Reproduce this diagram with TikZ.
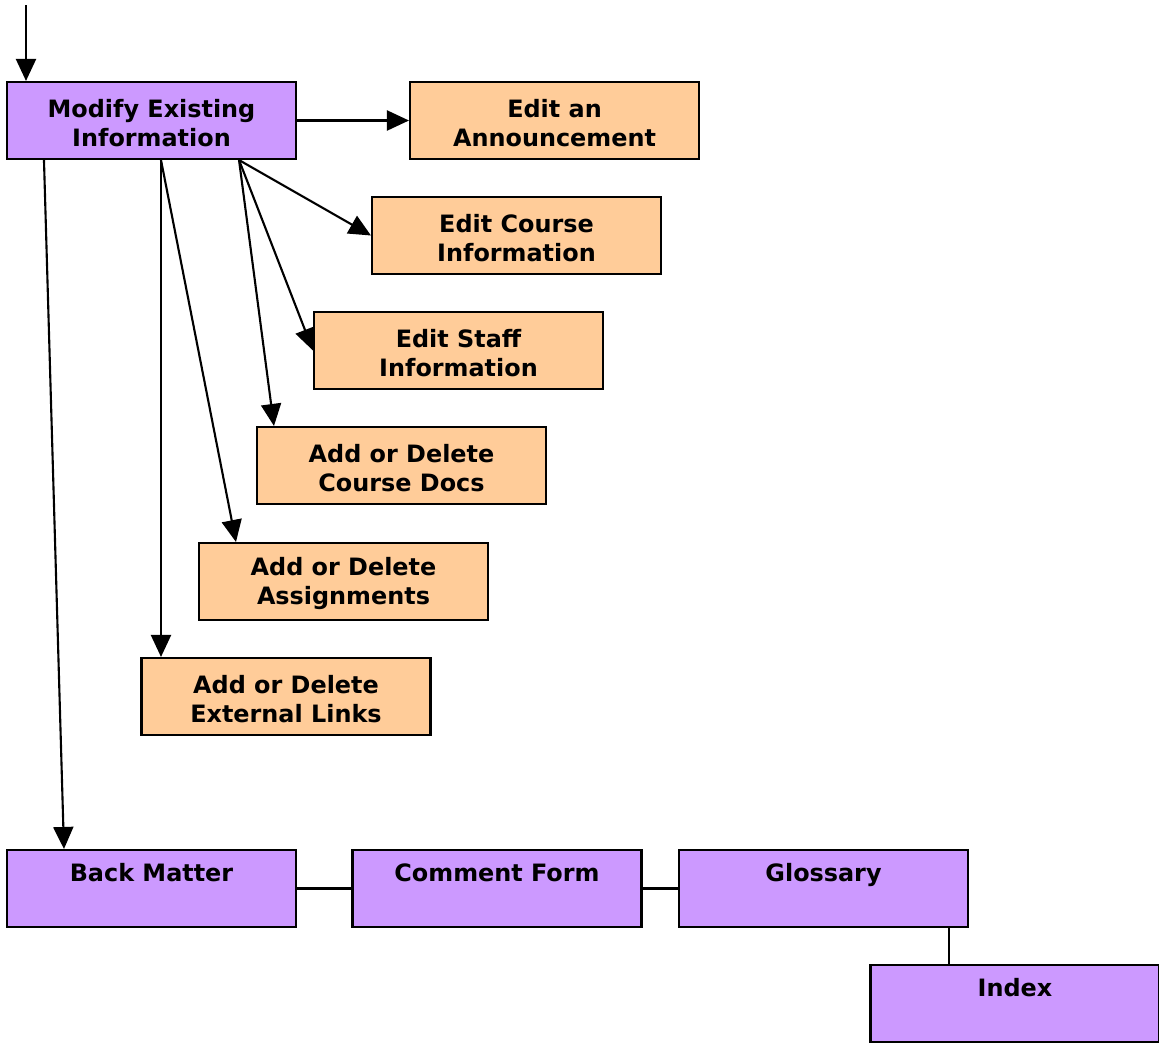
\documentclass[tikz,border=0pt]{standalone}
\usepackage{fontspec}
\setmainfont{DejaVu Sans}
\usepackage{xcolor}
\usepackage{tikz}
\usetikzlibrary{calc}
\usetikzlibrary{arrows.meta}

\definecolor{lilac}{HTML}{CC99FF}
\definecolor{peach}{HTML}{FFCC99}
\newcommand{\toprule}{\rule{0pt}{13pt}}

\begin{document}
\begin{tikzpicture}[x=0.02cm, y=-0.02cm]
		%% page frame
		\useasboundingbox (0,0) rectangle (1159,1045);

		\tikzset{pagebox/.style={draw, line width=1.2pt, minimum width=5.78cm, minimum height=1.54cm,
				inner sep=0pt, align=center, font=\fontsize{13.6}{16.5}\selectfont\bfseries}}

		\begin{scope}[every node/.style={pagebox, fill=lilac}]
			\node (modify) at (151.5,120.5) {\toprule Modify Existing\\Information};
			\node (back) at (151.5,888.5) {\toprule Back Matter\\\strut};
			\node (comment) at (497,888.5) {\toprule Comment Form\\\strut};
			\node (gloss) at (823.5,888.5) {\toprule Glossary\\\strut};
			\node (index) at (1015,1003.5) {\toprule Index\\\strut};
		\end{scope}

		\begin{scope}[every node/.style={pagebox, fill=peach}]
			\node (ann) at (554.5,120.5) {\toprule Edit an\\Announcement};
			\node (course) at (516.5,235.5) {\toprule Edit Course\\Information};
			\node (staff) at (458.5,350.5) {\toprule Edit Staff\\Information};
			\node (docs) at (401.5,465.5) {\toprule Add or Delete\\Course Docs};
			\node (assign) at (343.5,581.5) {\toprule Add or Delete\\Assignments};
			\node (links) at (286,696.5) {\toprule Add or Delete\\External Links};
		\end{scope}

		\coordinate (entry) at (26,5);
		\coordinate (fanA) at ($(modify.south east)+(-58,0)$);
		\coordinate (fanB) at ($(modify.south)+(9.5,0)$);
		\coordinate (fanC) at ($(modify.south west)+(38,0)$);
		\coordinate (drop) at ($(gloss.south east)+(-20,0)$);

		\begin{scope}[line width=1.2pt, -{Triangle[length=0.44cm, width=0.4cm]}]
			\draw (entry) -- (entry |- modify.north);
			\draw (modify.east) -- (ann.west);
			\foreach \x in {course,staff}
				\draw (fanA) -- (\x.west);
			\draw (fanA) -- ($(docs.north west)+(18,0)$);
			\draw (fanB) -- ($(assign.north west)+(38,0)$);
			\draw (fanB) -- (fanB |- links.north);
			\draw (fanC) -- ($(back.north west)+(58,0)$);
		\end{scope}

		\begin{scope}[line width=1.2pt]
			\draw (back.east) -- (comment.west);
			\draw (comment.east) -- (gloss.west);
			\draw (drop) -- (drop |- index.north);
		\end{scope}

\end{tikzpicture}
\end{document}
